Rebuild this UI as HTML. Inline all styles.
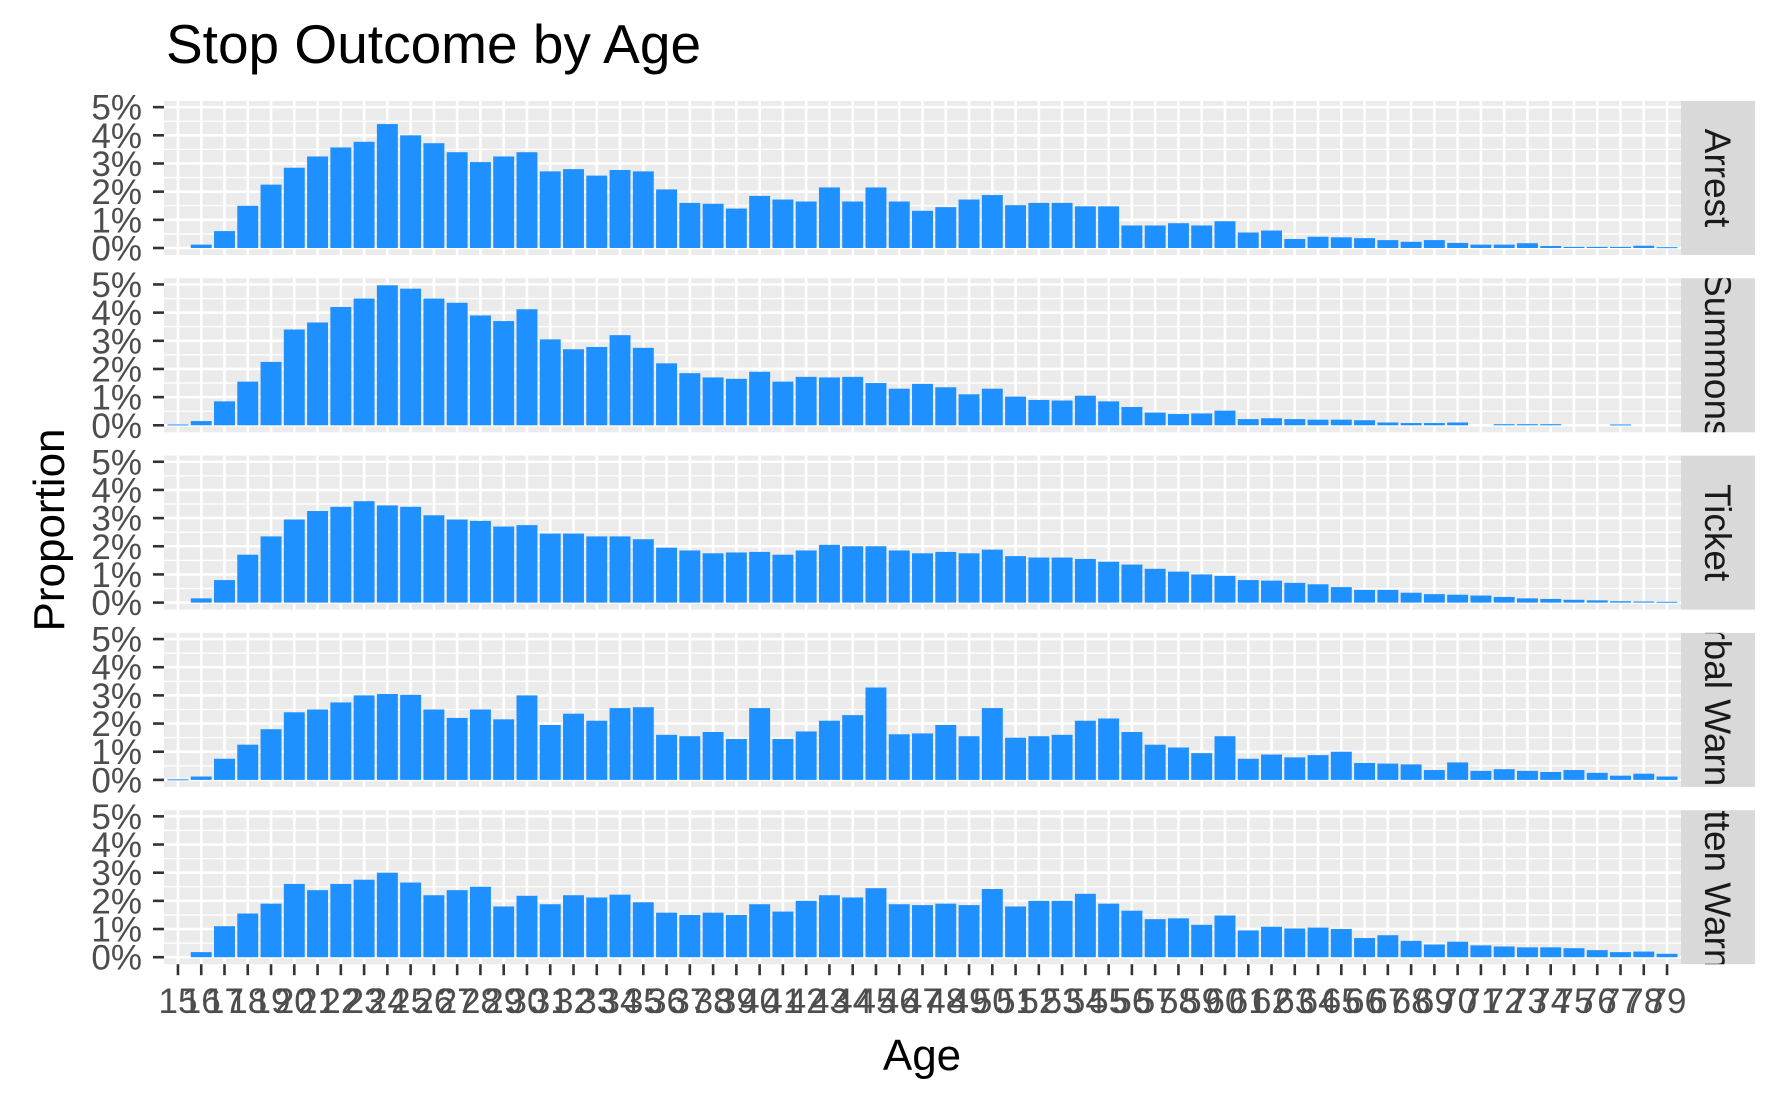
<!DOCTYPE html>
<html><head><meta charset="utf-8"><style>
html,body{margin:0;padding:0;background:#fff;}
svg{display:block;font-family:"Liberation Sans",Arial,sans-serif;}
</style></head><body>
<svg id="chart" width="1778" height="1103" viewBox="0 0 1778 1103" xmlns="http://www.w3.org/2000/svg">
<text x="166" y="63" font-size="55" fill="#000">Stop Outcome by Age</text>
<text transform="translate(64,530) rotate(-90)" text-anchor="middle" font-size="44" fill="#000">Proportion</text>
<text x="922" y="1070" text-anchor="middle" font-size="44" fill="#000">Age</text>
<g id="panels"></g>
</svg>
<script>
const ages = [];
for (let a = 15; a <= 79; a++) ages.push(a);
const facets = ["Arrest","Summons","Ticket","Verbal Warning","Written Warning"];
const yTicks = [0,1,2,3,4,5];
const yTickLabels = ["0%","1%","2%","3%","4%","5%"];
const arrest = [0,0.12,0.6,1.5,2.25,2.85,3.25,3.57,3.77,4.4,4.0,3.72,3.4,3.05,3.25,3.4,2.72,2.8,2.57,2.77,2.72,2.08,1.6,1.57,1.4,1.85,1.72,1.65,2.15,1.65,2.15,1.65,1.32,1.45,1.72,1.88,1.52,1.6,1.6,1.48,1.48,0.8,0.8,0.88,0.8,0.95,0.55,0.62,0.32,0.4,0.38,0.35,0.28,0.22,0.28,0.18,0.12,0.12,0.17,0.07,0.04,0.04,0.04,0.08,0.03];
const summons = [0.03,0.15,0.85,1.55,2.25,3.4,3.65,4.2,4.5,4.97,4.85,4.5,4.35,3.9,3.7,4.12,3.05,2.7,2.78,3.2,2.75,2.2,1.85,1.7,1.65,1.9,1.55,1.72,1.7,1.72,1.5,1.3,1.47,1.35,1.1,1.3,1.02,0.9,0.88,1.05,0.85,0.65,0.45,0.4,0.42,0.52,0.22,0.25,0.22,0.2,0.2,0.18,0.1,0.08,0.08,0.1,0,0.04,0.04,0.04,0,0,0.03,0,0];
const ticket = [0,0.15,0.8,1.7,2.35,2.95,3.25,3.4,3.6,3.45,3.4,3.1,2.95,2.9,2.7,2.75,2.45,2.45,2.35,2.35,2.25,1.95,1.85,1.75,1.78,1.8,1.7,1.85,2.05,2.0,2.0,1.85,1.75,1.8,1.75,1.88,1.65,1.6,1.6,1.55,1.45,1.35,1.2,1.1,1.0,0.95,0.8,0.78,0.7,0.65,0.55,0.45,0.45,0.35,0.3,0.28,0.25,0.2,0.15,0.13,0.1,0.08,0.05,0.04,0.03];
const verbal = [0.02,0.12,0.75,1.25,1.8,2.4,2.5,2.75,3.0,3.05,3.02,2.5,2.2,2.5,2.15,3.0,1.95,2.35,2.1,2.55,2.58,1.6,1.55,1.7,1.45,2.55,1.45,1.72,2.1,2.3,3.28,1.62,1.65,1.95,1.55,2.55,1.5,1.55,1.6,2.1,2.18,1.7,1.25,1.15,0.95,1.55,0.75,0.9,0.8,0.88,1.0,0.6,0.58,0.55,0.35,0.62,0.32,0.38,0.32,0.28,0.35,0.25,0.15,0.22,0.12];
const written = [0,0.18,1.1,1.55,1.9,2.6,2.38,2.6,2.75,3.0,2.65,2.2,2.38,2.5,1.8,2.18,1.88,2.2,2.12,2.22,1.95,1.58,1.5,1.58,1.5,1.88,1.62,2.0,2.2,2.12,2.45,1.88,1.85,1.9,1.85,2.42,1.8,2.0,2.0,2.25,1.9,1.65,1.35,1.38,1.15,1.48,0.95,1.08,1.02,1.05,1.0,0.68,0.78,0.58,0.45,0.55,0.42,0.38,0.35,0.35,0.32,0.25,0.18,0.2,0.12];
const series = [arrest, summons, ticket, verbal, written];

const NS = "http://www.w3.org/2000/svg";
const svg = document.getElementById("panels");
const PL = 164, PR = 1681, PH = 154, TOP0 = 101, STEP = 177.3;
const unit = (PR - PL) / (ages.length - 1 + 1.2);
function xScale(i) { return PL + (0.6 + i) * unit; }
const yMax = 4.97, yRange = yMax * 1.1;
function yScale(v, top) { return top + PH - (v + yMax * 0.05) / yRange * PH; }
function mk(tag, attrs, parent) {
  const el = document.createElementNS(NS, tag);
  for (const k in attrs) el.setAttribute(k, attrs[k]);
  parent.appendChild(el);
  return el;
}
facets.forEach((f, p) => {
  const top = TOP0 + p * STEP;
  const g = mk("g", {}, svg);
  
  
  const bg = mk("rect", {x: PL, y: top, width: PR - PL, height: PH, fill: "#ebebeb"}, g);
  
  
  for (let k = 0; k < yTicks.length - 1; k++) {
    const y = yScale(yTicks[k] + 0.5, top);
    const l = mk("line", {x1: PL, x2: PR, y1: y, y2: y, stroke: "#fff", "stroke-width": 1.3}, g);
    
    
  }
  yTicks.forEach((t, k) => {
    const y = yScale(t, top);
    const l = mk("line", {x1: PL, x2: PR, y1: y, y2: y, stroke: "#fff", "stroke-width": 2.6}, g);
    
    
    const tk = mk("line", {x1: PL - 11, x2: PL, y1: y, y2: y, stroke: "#333", "stroke-width": 2.6}, g);
    
    
    const tx = mk("text", {x: PL - 22, y: y + 12.5, "text-anchor": "end", "font-size": 35, fill: "#4d4d4d"}, g);
    tx.textContent = yTickLabels[k];
    
    
  });
  ages.forEach((a, i) => {
    const x = xScale(i);
    const l = mk("line", {x1: x, x2: x, y1: top, y2: top + PH, stroke: "#fff", "stroke-width": 2.6}, g);
    
    
  });
  const vals = series[p];
  vals.forEach((v, i) => {
    if (v <= 0) return;
    const x = xScale(i), y0 = yScale(0, top), y1 = yScale(v, top);
    const r = mk("rect", {x: x - unit * 0.45, y: y1, width: unit * 0.9, height: Math.max(y0 - y1, 1), fill: "#1e90ff"}, g);
    
    
  });
  const strip = mk("rect", {x: PR, y: top, width: 74, height: PH, fill: "#d9d9d9"}, g);
  
  
  const cid = "clip" + p;
  const cp = mk("clipPath", {id: cid}, g);
  mk("rect", {x: PR, y: top, width: 74, height: PH}, cp);
  const cg = mk("g", {"clip-path": `url(#${cid})`}, g);
  const st = mk("text", {transform: `translate(${PR + 24},${top + PH / 2}) rotate(90)`, "text-anchor": "middle", "font-size": 37, fill: "#1a1a1a"}, cg);
  st.textContent = f;
  
  
});
const lastTop = TOP0 + 4 * STEP;
const xg = mk("g", {}, svg);


ages.forEach((a, i) => {
  const x = xScale(i);
  const tk = mk("line", {x1: x, x2: x, y1: lastTop + PH, y2: lastTop + PH + 11, stroke: "#333", "stroke-width": 2.6}, xg);
  
  
  const tx = mk("text", {x: x, y: 1013, "text-anchor": "middle", "font-size": 35, fill: "#4d4d4d"}, xg);
  tx.textContent = String(a);
  
  
});
</script>
</body></html>
